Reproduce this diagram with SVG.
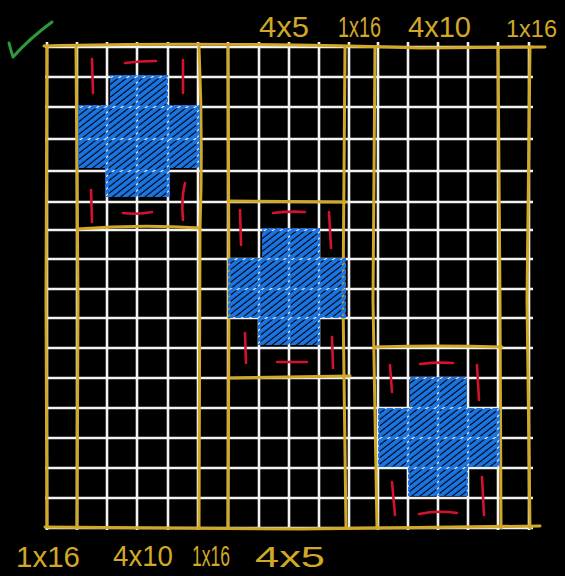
<svg xmlns="http://www.w3.org/2000/svg" width="565" height="576" viewBox="0 0 565 576">
<defs>
<style>
.grid{stroke:#f2f2f2;stroke-width:2.6;fill:none}
.gold{stroke:#d1a827;stroke-width:3;fill:none;stroke-linecap:round;stroke-linejoin:round}
.red{stroke:#d4122e;stroke-width:2.6;fill:none;stroke-linecap:round}
.blue{fill:url(#hatch)}
.lbl{font-family:"Liberation Sans",Arial,sans-serif;font-size:29px;fill:#d1a827}
</style>
<pattern id="hatch" patternUnits="userSpaceOnUse" width="5" height="5" patternTransform="rotate(-38)">
<rect x="0" y="0" width="5" height="3.9" fill="#1a74e2"/>
</pattern>
</defs>
<rect width="565" height="576" fill="#000"/>
<path d="M9,43 Q11,51 13,57 Q30,38 52,22" stroke="#2b9b3c" stroke-width="3" fill="none" stroke-linecap="round" stroke-linejoin="round"/>
<g id="grid" class="grid">
<path d="M47,42V530M77,42V530M107,42V530M137,42V530M168,42V530M198,42V530M228,42V530M259,42V530M289,42V530M319,42V530M349,42V530M378,42V530M408,42V530M438,42V530M468,42V530M498,42V530M529,42V530"/>
<path d="M45,47H533M45,77H533M45,107H533M45,139H533M45,171H533M45,202H533M45,230H533M45,259H533M45,289H533M45,318H533M45,348H533M45,378H533M45,408H533M45,438H533M45,468H533M45,498H533M45,528H533"/>
</g>
<g id="columns" class="gold">
<path d="M44,46 C150,43 300,44 420,48 L545,47"/>
<path d="M45,527 L300,529 L540,526"/>
<path d="M47,46 L46,300 L47,527"/>
<path d="M76,47 L78,300 L77,528"/>
<path d="M199,47 Q203,140 200,228 L199,528"/>
<path d="M228,46 L229,300 L228,528"/>
<path d="M345,47 L343,300 L346,528"/>
<path d="M375,47 L373,300 L377,528"/>
<path d="M498,47 L500,300 L501,528"/>
<path d="M530,47 L527,300 L530,528"/>
</g>
<g id="box1">
<path class="gold" d="M77,229 Q140,224 200,228"/>
<path class="blue" d="M110,75 H168 V105 H200 V168 H170 V197 H105 V168 H78 V105 H110 Z"/>
<g class="red">
<path d="M92,59 L93,93"/><path d="M125,63 Q140,61 156,61"/><path d="M183,60 L183,93"/>
<path d="M91,190 L92,222"/><path d="M123,213 Q138,215 152,212"/><path d="M185,183 Q181,200 183,220"/>
</g>
</g>
<g id="box2">
<path class="gold" d="M228,201 L346,202"/>
<path class="gold" d="M228,378 L350,376"/>
<path class="blue" d="M262,228 H320 V258 H346 V318 H320 V345 H258 V318 H228 V258 H262 Z"/>
<g class="red">
<path d="M240,210 L241,245"/><path d="M273,213 Q290,211 305,212"/><path d="M329,212 L331,248"/>
<path d="M245,333 L246,363"/><path d="M277,362 L307,362"/><path d="M332,337 L333,368"/>
</g>
</g>
<g id="box3">
<path class="gold" d="M374,347 Q440,345 502,347"/>
<path class="blue" d="M410,377 H467 V408 H500 V467 H468 V496 H408 V467 H378 V408 H410 Z"/>
<g class="red">
<path d="M390,365 L392,392"/><path d="M420,364 Q437,362 453,363"/><path d="M477,365 L479,400"/>
<path d="M392,482 L395,515"/><path d="M419,514 Q438,510 457,513"/><path d="M482,477 L484,515"/>
</g>
</g>
<g id="labels" class="lbl">
<text x="259" y="37" textLength="50" lengthAdjust="spacingAndGlyphs">4x5</text>
<text x="338" y="37" textLength="43" lengthAdjust="spacingAndGlyphs">1x16</text>
<text x="408" y="37" textLength="63" lengthAdjust="spacingAndGlyphs">4x10</text>
<text x="506" y="37" font-size="24" textLength="51" lengthAdjust="spacingAndGlyphs">1x16</text>
<text x="16" y="567" textLength="64" lengthAdjust="spacingAndGlyphs">1x16</text>
<text x="113" y="566" textLength="60" lengthAdjust="spacingAndGlyphs">4x10</text>
<text x="192" y="566" textLength="38" lengthAdjust="spacingAndGlyphs">1x16</text>
<text x="255" y="567" textLength="70" lengthAdjust="spacingAndGlyphs">4x5</text>
</g>
</svg>
